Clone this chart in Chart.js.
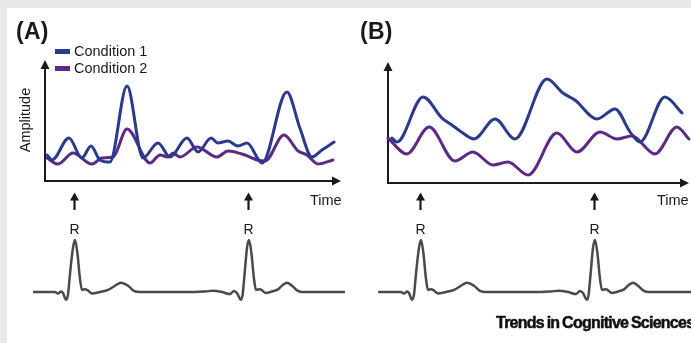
<!DOCTYPE html>
<html>
<head>
<meta charset="utf-8">
<script src="https://cdn.jsdelivr.net/npm/chart.js@4.4.1/dist/chart.umd.min.js"></script>
<style>
  html, body { margin:0; padding:0; background:#fff; }
  #wrap { position:relative; width:691px; height:343px; overflow:hidden; background:#fff; font-family:"Liberation Sans", Arial, sans-serif; color:#1a1a1a; }
  .band { position:absolute; background:#e8e8ea; }
  canvas { position:absolute; top:0; }
  .lbl { position:absolute; line-height:1; white-space:nowrap; }
  .cy { transform:translateY(-50%); }
  .cxy { transform:translate(-50%,-50%); }
  .panel { font-weight:bold; font-size:23px; letter-spacing:0.3px; }
  .t14 { font-size:14.5px; }
  .sw { position:absolute; width:15px; height:4.5px; }
</style>
</head>
<body>
<div id="wrap">
  <div class="band" style="left:0;top:0;width:691px;height:8px"></div>
  <div class="band" style="left:0;top:0;width:7px;height:343px"></div>
  <canvas id="cA" width="345" height="343" style="left:0"></canvas>
  <canvas id="cB" width="346" height="343" style="left:345px"></canvas>

  <div class="lbl panel cy" style="left:16px;top:31px">(A)</div>
  <div class="lbl panel cy" style="left:360px;top:31px">(B)</div>

  <div class="sw" style="left:55px;top:49px;background:#2a3a8c"></div>
  <div class="lbl t14 cy" style="left:74px;top:51px">Condition 1</div>
  <div class="sw" style="left:55px;top:66px;background:#5c2a86"></div>
  <div class="lbl t14 cy" style="left:74px;top:68px">Condition 2</div>

  <div class="lbl t14 cxy" style="left:25px;top:120px;transform:translate(-50%,-50%) rotate(-90deg)">Amplitude</div>
  <div class="lbl t14 cy" style="left:310px;top:200px">Time</div>
  <div class="lbl t14 cy" style="left:657px;top:200px">Time</div>

  <div class="lbl cy" style="left:496px;top:323px;font-weight:bold;font-size:16px;letter-spacing:-0.75px;word-spacing:-1px;-webkit-text-stroke:0.5px #111;color:#111">Trends in Cognitive Sciences</div>
</div>
<script>
// ---- Data ----
// Panel A, time in arbitrary units (0..100 along the time axis), amplitude 0..100 (top of axis)
const aTime1 = [0.7, 2.4, 8.1, 12.5, 15.6, 18.6, 22.0, 27.8, 33.2, 38.3, 42.4, 48.1, 51.9, 56.3, 58.6, 62.0, 65.4, 68.5, 73.6, 82.0, 86.4, 90.5, 93.9, 98.0];
const aCond1 = [21.5, 17.4, 35.5, 19.0, 28.9, 17.4, 15.7, 78.5, 19.0, 31.4, 19.8, 35.5, 24.0, 35.5, 31.4, 33.1, 28.9, 31.4, 14.9, 73.6, 43.8, 19.8, 25.6, 32.2];
const aTime2 = [0.7, 4.4, 9.5, 15.9, 19.3, 23.1, 27.8, 35.6, 39.0, 41.7, 43.4, 45.8, 51.5, 58.3, 62.0, 67.8, 71.9, 74.6, 81.0, 85.8, 88.8, 92.5, 97.6];
const aCond2 = [19.0, 14.0, 23.1, 14.0, 19.0, 19.8, 43.0, 14.9, 21.5, 19.8, 23.1, 19.8, 28.1, 19.8, 24.8, 21.5, 17.4, 16.5, 38.0, 24.8, 21.5, 14.0, 17.4];
// Panel B
const bTime1 = [1.3, 3.0, 11.7, 18.0, 21.3, 24.0, 28.7, 35.7, 42.3, 53.0, 58.3, 62.3, 69.7, 75.7, 80.7, 84.0, 92.3, 98.0];
const bCond1 = [37.2, 33.9, 71.1, 53.7, 47.9, 43.0, 36.4, 52.9, 36.4, 86.0, 74.4, 68.6, 52.9, 61.2, 42.1, 33.9, 71.1, 57.9];
const bTime2 = [0, 6.3, 13.7, 22.3, 28.3, 35.0, 40.0, 46.7, 56.3, 63.0, 70.7, 76.3, 81.3, 89.0, 96.3, 100.3];
const bCond2 = [37.2, 24.0, 46.3, 18.2, 25.6, 14.9, 17.4, 6.6, 41.3, 25.6, 42.1, 36.4, 38.8, 24.0, 46.3, 36.4];
// ECG trace (ms relative to first R peak, mV)
const ecgTime = [-210, -150, -100, -85, -70, -60, -45, -35, -25, -10, 0, 12, 25, 35, 50, 65, 85, 125, 165, 200, 230, 265, 295, 325,
                 600, 650, 690, 735, 775, 795, 810, 830, 838, 848, 860, 870, 882, 895, 905, 925, 955, 985, 1015, 1040, 1060, 1085, 1115, 1140, 1350];
const ecgMv   = [0, 0, 0, -0.03, 0.01, -0.02, -0.15, -0.05, 0.35, 0.85, 1.0, 0.75, 0.25, 0.04, 0.055, 0.03, -0.03, 0, 0.04, 0.12, 0.18, 0.12, 0.02, 0,
                 0, 0.01, 0.025, 0, -0.04, 0.02, -0.02, -0.15, -0.05, 0.35, 0.85, 1.0, 0.75, 0.25, 0.04, 0.055, -0.02, 0.01, 0.05, 0.14, 0.18, 0.12, 0.02, 0, 0];
const rPeakTimes = [0, 870];
const seriesLabels = ['Condition 1', 'Condition 2'];

const BLUE = '#2a3a8c', PURPLE = '#5c2a86', ECG = '#4a4a4a', INK = '#1a1a1a';
const pts = (xs, ys) => xs.map((x, i) => ({x, y: ys[i]}));

const axesPlugin = {
  id: 'axesArrows',
  beforeDatasetsDraw(chart) {
    const {ctx, scales} = chart;
    const {x, y, xe} = scales;
    const x0 = x.getPixelForValue(0), y0 = y.getPixelForValue(0);
    const xTip = x.getPixelForValue(100) + 1, yTip = y.getPixelForValue(100);
    ctx.save();
    ctx.strokeStyle = INK; ctx.fillStyle = INK; ctx.lineWidth = 2;
    ctx.beginPath();
    ctx.moveTo(x0, yTip + 6); ctx.lineTo(x0, y0); ctx.lineTo(xTip - 6, y0);
    ctx.stroke();
    ctx.beginPath();
    ctx.moveTo(x0, yTip); ctx.lineTo(x0 - 4.5, yTip + 9); ctx.lineTo(x0 + 4.5, yTip + 9); ctx.closePath(); ctx.fill();
    ctx.beginPath();
    ctx.moveTo(xTip, y0); ctx.lineTo(xTip - 9, y0 - 4.5); ctx.lineTo(xTip - 9, y0 + 4.5); ctx.closePath(); ctx.fill();
    // R-peak arrows
    rPeakTimes.forEach(t => {
      const px = Math.round(xe.getPixelForValue(t)) - 0.5;
      ctx.lineWidth = 2.2;
      ctx.beginPath(); ctx.moveTo(px, 210); ctx.lineTo(px, 199); ctx.stroke();
      ctx.beginPath(); ctx.moveTo(px, 192.5); ctx.lineTo(px - 4.5, 200.5); ctx.lineTo(px + 4.5, 200.5); ctx.closePath(); ctx.fill();
    });
    ctx.restore();
  }
};

function makePanel(id, s1, s2, xr, yr, er, offsetLeft) {
  const chart = new Chart(document.getElementById(id), {
    type: 'line',
    data: {
      datasets: [
        {label: seriesLabels[0], data: s1, borderColor: BLUE, borderWidth: 3, xAxisID: 'x', yAxisID: 'y'},
        {label: seriesLabels[1], data: s2, borderColor: PURPLE, borderWidth: 3, xAxisID: 'x', yAxisID: 'y'},
        {label: 'ECG', data: pts(ecgTime, ecgMv), borderColor: ECG, borderWidth: 2.5, xAxisID: 'xe', yAxisID: 'ye'}
      ]
    },
    options: {
      responsive: false, animation: false, devicePixelRatio: 1,
      layout: {padding: {left: 33, right: 0, top: 55, bottom: 33}},
      elements: {point: {radius: 0}, line: {cubicInterpolationMode: 'monotone', borderCapStyle: 'round', borderJoinStyle: 'round'}},
      plugins: {legend: {display: false}, tooltip: {enabled: false}},
      scales: {
        x:  {type: 'linear', display: false, min: xr[0], max: xr[1]},
        xe: {type: 'linear', display: false, min: er[0], max: er[1]},
        y:  {type: 'linear', display: false, min: yr[0], max: yr[1]},
        ye: {type: 'linear', display: false, min: -0.346, max: 4.558}
      }
    },
    plugins: [axesPlugin]
  });
  // R labels above the ECG peaks
  rPeakTimes.forEach(t => {
    const d = document.createElement('div');
    d.className = 'lbl t14 cxy';
    d.style.fontSize = '14px';
    d.style.left = (offsetLeft + chart.scales.xe.getPixelForValue(t) - 0.5) + 'px';
    d.style.top = '229px';
    d.textContent = 'R';
    document.getElementById('wrap').appendChild(d);
  });
  return chart;
}

makePanel('cA', pts(aTime1, aCond1), pts(aTime2, aCond2), [-4.07, 101.7], [-106.6, 104.1], [-210, 1350], 0);
makePanel('cB', pts(bTime1, bCond1), pts(bTime2, bCond2), [-3.33, 101.0], [-105.0, 105.8], [-215, 1350], 345);
</script>
</body>
</html>
